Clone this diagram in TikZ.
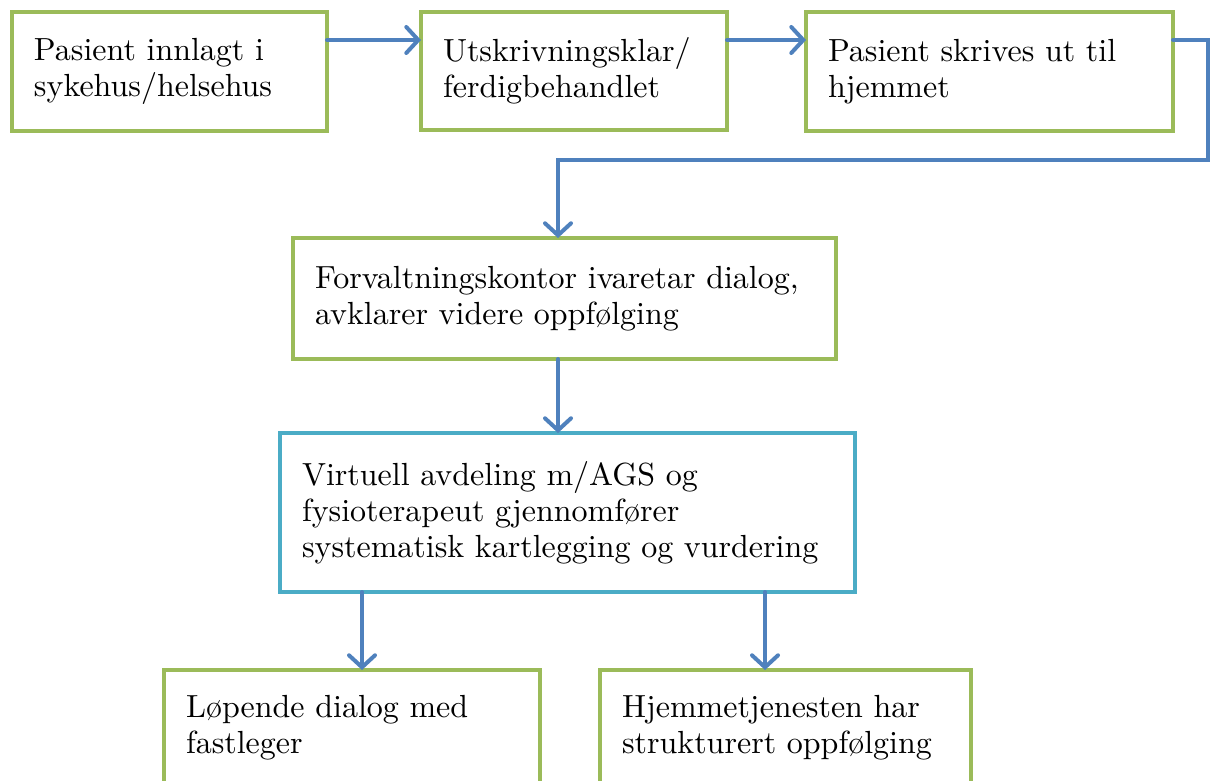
\documentclass[tikz,border=0pt]{standalone}
\usepackage{fontspec}
\setmainfont{lmroman10-regular.otf}
\usepackage{xcolor}
\usetikzlibrary{arrows.meta,calc}
\definecolor{boksgronn}{HTML}{9BBB59}
\definecolor{boksbla}{HTML}{4BACC6}
\definecolor{pilbla}{HTML}{4F81BD}
\tikzset{
	boks/.style 2 args={
			draw=boksgronn, line width=4pt, fill=white, anchor=north west,
			minimum width=#1, minimum height=#2, text width=#1-44pt,
			inner xsep=22pt, inner ysep=0pt, outer sep=0pt, align=left,
			font=\fontsize{32}{36}\selectfont
		},
	pil/.style={
			draw=pilbla, line width=4pt, line cap=round,
			-{Straight Barb[length=12pt,width=26pt,line cap=round]}
		}
}

\begin{document}
\begin{tikzpicture}[x=1pt,y=-1pt]

			% Fix the page and cut off what runs below it
			\useasboundingbox (0,0) rectangle (1211,781);
			\clip (0,0) rectangle (1211,781);

			% Top row
			\node[boks={315pt}{119pt}] (innlagt) at (12,12) {Pasient innlagt i\\ sykehus/helsehus};
			\node[boks={306pt}{118pt}] (klar) at (421,12) {Utskrivningsklar/\\ ferdigbehandlet};
			\node[boks={367pt}{119pt}] (utskrevet) at (806,12) {Pasient skrives ut til\\ hjemmet};

			% Middle
			\node[boks={543pt}{121pt}] (kontor) at (293,238) {Forvaltningskontor ivaretar dialog,\\ avklarer videre oppfølging};
			\node[boks={575pt}{159pt}, draw=boksbla] (virtuell) at (280,433) {Virtuell avdeling m/AGS og\\ fysioterapeut gjennomfører\\ systematisk kartlegging og vurdering};

			% Bottom row, cut by the page edge
			\node[boks={376pt}{116pt}] (fastlege) at (164,670) {Løpende dialog med\\ fastleger};
			\node[boks={371pt}{116pt}] (hjemme) at (600,670) {Hjemmetjenesten har\\ strukturert oppfølging};

			% Arrows along the top row
			\draw[pil] ([yshift=-28pt]innlagt.north east) -- ([yshift=-28pt]klar.north west);
			\draw[pil] ([yshift=-28pt]klar.north east) -- ([yshift=-28pt]utskrevet.north west);

			% Around the right edge and back to the middle
			\coordinate (hjorne) at (1208,160);
			\draw[pil] ([yshift=-28pt]utskrevet.north east) -| (hjorne) -| ([xshift=-6.5pt]kontor.north);
			\draw[pil] ([xshift=-6.5pt]kontor.south) -- ([xshift=-6.5pt]kontor.south |- virtuell.north);

			% Down to the two last boxes
			\draw[pil] ([xshift=10pt]fastlege.north |- virtuell.south) -- ([xshift=10pt]fastlege.north);
			\draw[pil] ([xshift=-20.5pt]hjemme.north |- virtuell.south) -- ([xshift=-20.5pt]hjemme.north);

		\end{tikzpicture}
\end{document}
